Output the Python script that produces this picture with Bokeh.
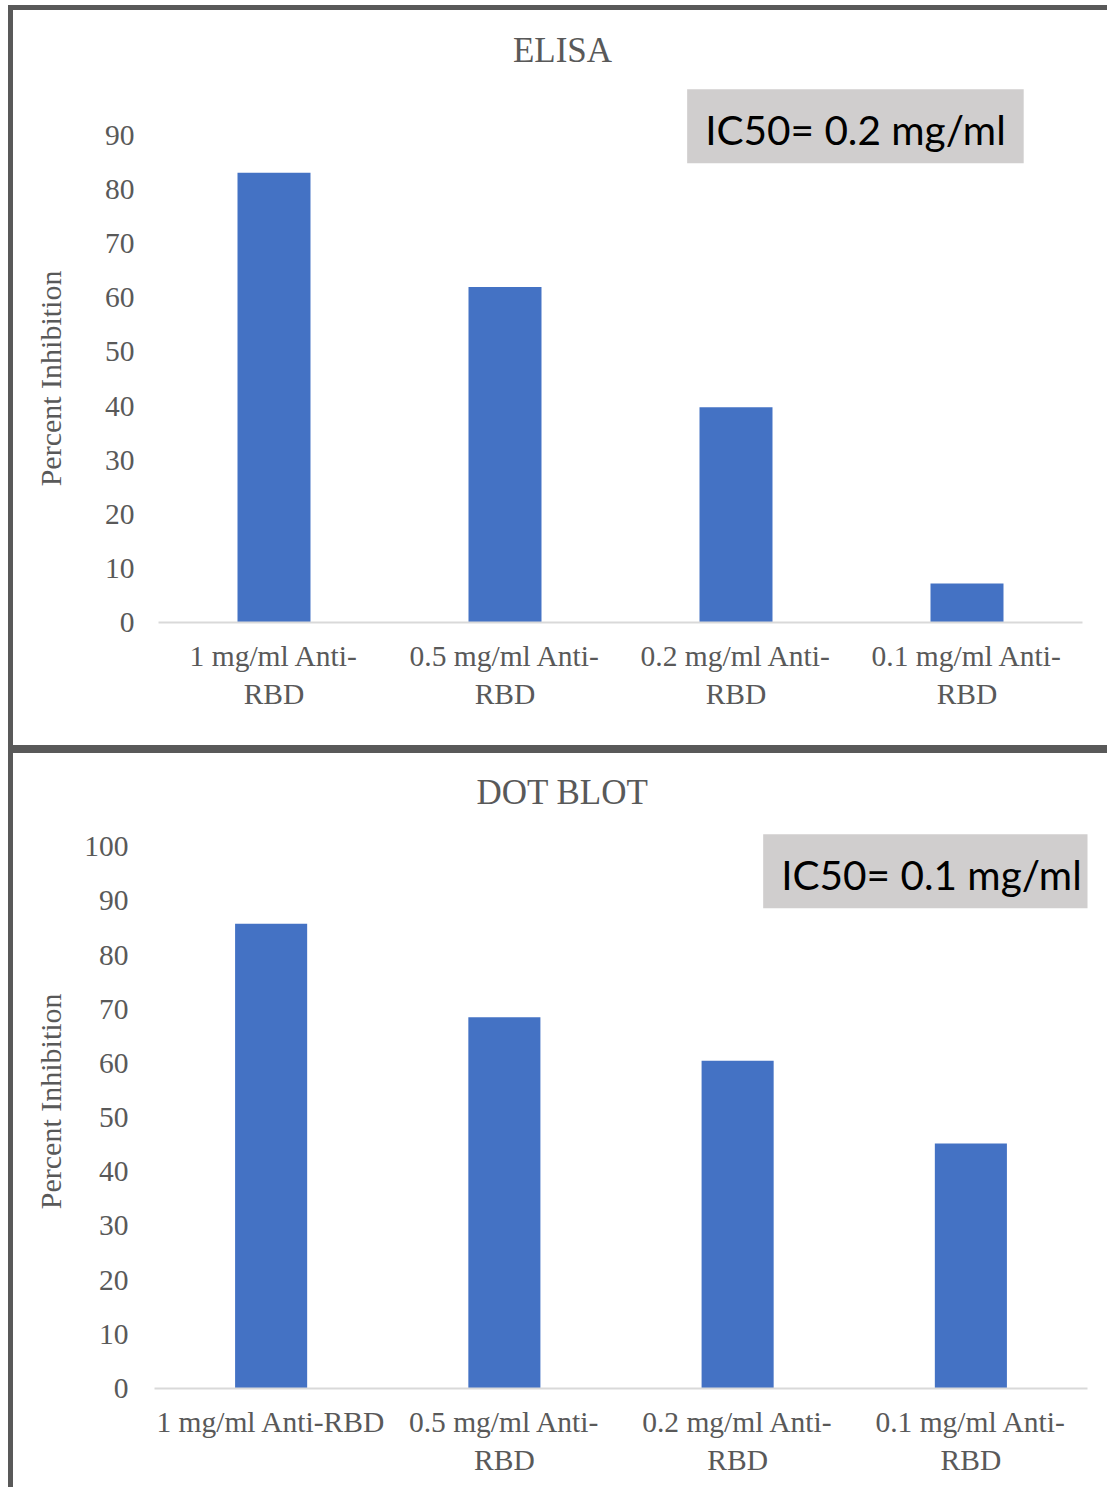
import math
from bokeh.plotting import figure
from bokeh.models import Range1d, FactorRange, FixedTicker, Label, Div
from bokeh.layouts import column, row
from bokeh.embed import file_html
from bokeh.resources import INLINE

# ---------------- data ----------------
elisa_categories = ["1 mg/ml Anti-\nRBD", "0.5 mg/ml Anti-\nRBD",
                    "0.2 mg/ml Anti-\nRBD", "0.1 mg/ml Anti-\nRBD"]
elisa_values = [83.1, 62.0, 39.8, 7.2]
elisa_ticks = [0, 10, 20, 30, 40, 50, 60, 70, 80, 90]

dot_categories = ["1 mg/ml Anti-RBD", "0.5 mg/ml Anti-\nRBD",
                  "0.2 mg/ml Anti-\nRBD", "0.1 mg/ml Anti-\nRBD"]
dot_values = [85.8, 68.5, 60.5, 45.2]
dot_ticks = [0, 10, 20, 30, 40, 50, 60, 70, 80, 90, 100]

elisa_title = "ELISA"
dot_title = "DOT BLOT"
elisa_ic50 = "IC50= 0.2 mg/ml"
dot_ic50 = "IC50= 0.1 mg/ml"
y_label = "Percent Inhibition"

# ---------------- styles ----------------
TEXT = "#595959"
BAR = "#4472C4"
BOX = "#D0CECE"
BORDER = "#595959"
AXIS = "#D9D9D9"
SERIF = "Liberation Serif"
LABEL_W = 60


def ylabel_fig(height, y_end, lab_x, lab_y):
    # narrow companion figure; its frame is aligned with the chart frame
    f = figure(width=LABEL_W, height=height,
               x_range=Range1d(0, LABEL_W), y_range=Range1d(0, y_end),
               x_axis_type=None, y_axis_type=None,
               output_backend="svg", toolbar_location=None,
               min_border=0)
    f.outline_line_color = None
    f.xgrid.visible = False
    f.ygrid.visible = False
    f.add_layout(Label(x=lab_x, y=lab_y, text=y_label,
                       angle=math.pi / 2,
                       text_align="center", text_baseline="middle",
                       text_font=SERIF, text_font_size="30px",
                       text_color=TEXT))
    return f


def panel(cats, vals, ticks, title, ic50, width, height, mb_left, mb_right,
          mb_bottom, y_end, bar_w, ystand, title_xy, box_xy):
    p = figure(width=width, height=height,
               x_range=FactorRange(*cats, range_padding=0),
               y_range=Range1d(0, y_end),
               output_backend="svg", toolbar_location=None,
               min_border_left=mb_left, min_border_right=mb_right,
               min_border_top=0, min_border_bottom=mb_bottom)
    p.outline_line_color = None
    p.xgrid.visible = False
    p.ygrid.visible = False

    p.vbar(x=cats, top=vals, width=bar_w, fill_color=BAR, line_color=None)

    xa = p.xaxis[0]
    xa.axis_line_color = AXIS
    xa.axis_line_width = 2
    xa.major_tick_line_color = None
    xa.minor_tick_line_color = None
    xa.major_tick_out = 0
    xa.major_tick_in = 0
    xa.major_label_standoff = 17
    xa.major_label_text_font = SERIF
    xa.major_label_text_font_size = "29.5px"
    xa.major_label_text_color = TEXT

    ya = p.yaxis[0]
    ya.ticker = FixedTicker(ticks=ticks)
    ya.axis_line_color = None
    ya.major_tick_line_color = None
    ya.minor_tick_line_color = None
    ya.major_tick_out = 0
    ya.major_tick_in = 0
    ya.major_label_standoff = ystand
    ya.major_label_text_font = SERIF
    ya.major_label_text_font_size = "29.5px"
    ya.major_label_text_color = TEXT

    p.add_layout(Label(x=title_xy[0], y=title_xy[1], text=title,
                       text_align="center", text_baseline="middle",
                       text_font=SERIF, text_font_size="35px",
                       text_color=TEXT))
    p.add_layout(Label(x=box_xy[0], y=box_xy[1], text=ic50,
                       text_align="center", text_baseline="middle",
                       text_font="Lato", text_font_size="40.5px",
                       text_color="black",
                       background_fill_color=BOX,
                       padding=(18, 18, 16, 9)))
    return p


ELISA_Y_END = 113.1
DOT_Y_END = 117.2

# top panel: 1094 x 735 (label column + chart)
l1 = ylabel_fig(735, ELISA_Y_END, 37, 45.1)
p1 = panel(elisa_categories, elisa_values, elisa_ticks, elisa_title, elisa_ic50,
           1094 - LABEL_W, 735, 85, 25, 123, ELISA_Y_END, 0.316, 24,
           (1.749, 105.7), (3.017, 91.7))
# bottom panel: 1094 x 734
l2 = ylabel_fig(734, DOT_Y_END, 37, 53.0)
p2 = panel(dot_categories, dot_values, dot_ticks, dot_title, dot_ic50,
           1094 - LABEL_W, 734, 81, 20, 99, DOT_Y_END, 0.309, 26,
           (1.749, 110.0), (3.331, 95.45))


def block(w, h, color):
    return Div(text="", width=w, height=h, margin=0,
               styles={"background-color": color})


framed = column(
    block(1099, 5, BORDER),
    row(block(5, 735, BORDER), l1, p1, spacing=0),
    block(1099, 8, BORDER),
    row(block(5, 734, BORDER), l2, p2, spacing=0),
    spacing=0,
)

layout = column(
    block(1107, 5, "white"),
    row(block(8, 1482, "white"), framed, spacing=0),
    spacing=0,
)

open("out.html", "w").write(file_html(layout, INLINE))
